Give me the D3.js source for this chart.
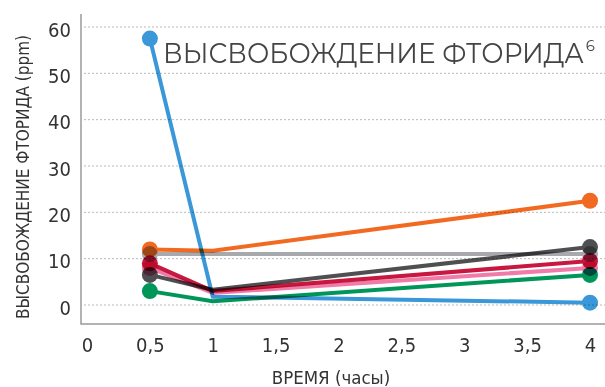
<!DOCTYPE html>
<html>
<head>
<meta charset="utf-8">
<script src="https://cdn.jsdelivr.net/npm/d3@7"></script>
<style>
  html, body { margin: 0; padding: 0; background: #fff; }
  svg { display: block; }
  .tick text, .cond { font-family: "DejaVu Sans Condensed", "DejaVu Sans", sans-serif; font-stretch: condensed; }
</style>
</head>
<body>
<svg id="chart" width="605" height="387"></svg>
<script>
// Time points (hours)
const hours = [0.5, 1, 4];

// Fluoride release per product (ppm)
const blueValues      = [57.5, 1.8, 0.5];
const orangeValues    = [12.0, 11.7, 22.5];
const lightGrayValues = [11.0, 11.0, 11.0];
const darkGrayValues  = [6.5, 3.3, 12.5];
const redValues       = [9.0, 3.0, 9.5];
const pinkValues      = [8.0, 2.6, 8.0];
const greenValues     = [3.0, 0.8, 6.5];

const xTicks = [0, 0.5, 1, 1.5, 2, 2.5, 3, 3.5, 4];
const yTicks = [0, 10, 20, 30, 40, 50, 60];

const seriesList = [
  { name: "lightgray", color: "#a7a9ac", values: lightGrayValues },
  { name: "orange",    color: "#f26a21", values: orangeValues },
  { name: "pink",      color: "#f07aa8", values: pinkValues },
  { name: "red",       color: "#c8183f", values: redValues },
  { name: "darkgray",  color: "#4f4f51", values: darkGrayValues },
  { name: "green",     color: "#00965a", values: greenValues },
  { name: "blue",      color: "#3a98d9", values: blueValues }
];

const svg = d3.select("#chart");
const frame = { left: 81, right: 605, top: 14, bottom: 324 };

const x = d3.scaleLinear().domain([0, 4]).range([87, 590]);
const y = d3.scaleLinear().domain([0, 60]).range([305, 27]);

// Dotted horizontal grid
svg.append("g")
  .selectAll("line")
  .data(yTicks)
  .join("line")
  .attr("x1", frame.left + 3).attr("x2", frame.right)
  .attr("y1", d => y(d)).attr("y2", d => y(d))
  .attr("stroke", "#b8b8b8")
  .attr("stroke-width", 1)
  .attr("stroke-dasharray", "2,2");

// Axis frame (left + bottom)
svg.append("path")
  .attr("d", `M${frame.left},${frame.top}V${frame.bottom}H${frame.right}`)
  .attr("fill", "none")
  .attr("stroke", "#9a9a9a")
  .attr("stroke-width", 1.5);

// Y axis labels
const yAxis = svg.append("g")
  .attr("transform", `translate(${frame.left},0)`)
  .call(d3.axisLeft(y).tickValues(yTicks).tickSize(0).tickPadding(10).tickFormat(d3.format("d")));
yAxis.select(".domain").remove();
yAxis.selectAll("text")
  .attr("font-size", 20)
  .attr("fill", "#333")
  .attr("dy", "0.45em");

// X axis labels
const xAxis = svg.append("g")
  .attr("transform", `translate(0,${frame.bottom})`)
  .call(d3.axisBottom(x).tickValues(xTicks).tickSize(0).tickPadding(14)
    .tickFormat(d => String(d).replace(".", ",")));
xAxis.select(".domain").remove();
xAxis.selectAll("text")
  .attr("font-size", 20)
  .attr("fill", "#333");

// Axis titles
svg.append("text")
  .attr("class", "cond")
  .attr("transform", "translate(29,177) rotate(-90)")
  .attr("text-anchor", "middle")
  .attr("font-size", 18)
  .attr("textLength", 284)
  .attr("lengthAdjust", "spacingAndGlyphs")
  .attr("fill", "#333")
  .text("ВЫСВОБОЖДЕНИЕ ФТОРИДА (ppm)");

svg.append("text")
  .attr("class", "cond")
  .attr("x", 331).attr("y", 384)
  .attr("text-anchor", "middle")
  .attr("font-size", 18.5)
  .attr("fill", "#333")
  .text("ВРЕМЯ (часы)");

// Series lines and markers, multiplied where they overlap
const line = d3.line().x(d => x(d.h)).y(d => y(d.v));
const marks = svg.append("g");
seriesList.forEach(s => {
  const pts = hours.map((h, i) => ({ h, v: s.values[i] }));
  const g = marks.append("g").style("mix-blend-mode", "multiply");
  g.append("path")
    .datum(pts)
    .attr("d", line)
    .attr("fill", "none")
    .attr("stroke", s.color)
    .attr("stroke-width", 4)
    .attr("stroke-linejoin", "round");
  g.selectAll("circle")
    .data([pts[0], pts[2]])
    .join("circle")
    .attr("cx", d => x(d.h))
    .attr("cy", d => y(d.v))
    .attr("r", 8)
    .attr("fill", s.color);
});

// Title (slightly narrowed) with superscript reference
const titleFont = "Montserrat, 'Noto Sans', 'Open Sans', sans-serif";
const titleScale = 0.94;
const title = svg.append("text")
  .attr("transform", `translate(163,63) scale(${titleScale},1)`)
  .attr("font-family", titleFont)
  .attr("font-size", 28)
  .attr("fill", "#444")
  .text("ВЫСВОБОЖДЕНИЕ ФТОРИДА");
const titleRight = 163 + title.node().getBBox().width * titleScale;
svg.append("text")
  .attr("x", titleRight + 2).attr("y", 51)
  .attr("font-family", titleFont)
  .attr("font-size", 15)
  .attr("fill", "#444")
  .text("6");
</script>
</body>
</html>
